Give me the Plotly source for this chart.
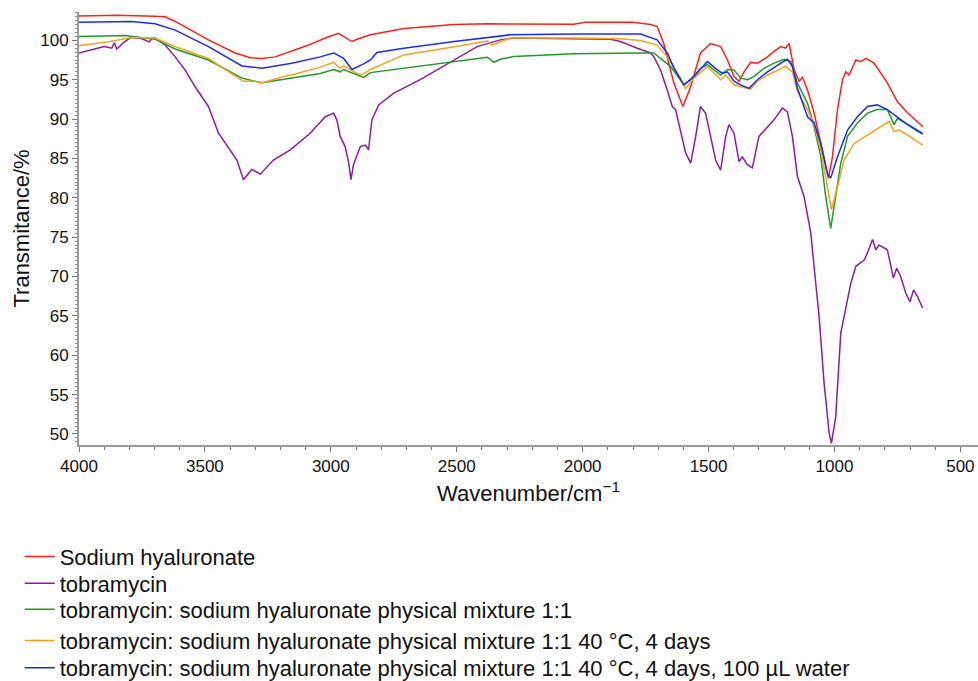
import plotly.graph_objects as go

# ---- data (wavenumber in cm^-1, transmittance in %) ----
wn_sh = [4000, 3850, 3700, 3658, 3618, 3486, 3380, 3320, 3274, 3221, 3088, 3022, 2970, 2945, 2916, 2890, 2843,
         2710, 2510, 2378, 2035, 1990, 1800, 1730, 1704, 1678, 1638, 1602, 1571, 1532, 1492, 1452, 1425, 1399,
         1379, 1359, 1333, 1306, 1266, 1240, 1213, 1194, 1180, 1160, 1140, 1127, 1107, 1081, 1054, 1035, 1024,
         1008, 988, 968, 955, 942, 915, 895, 876, 843, 790, 750, 710, 650]
t_sh = [103.1, 103.2, 103.05, 103.0, 102.4, 100.06, 98.4, 97.8, 97.7, 97.9, 99.4, 100.3, 100.9, 100.4, 99.85,
        100.2, 100.7, 101.5, 102.0, 102.1, 102.05, 102.3, 102.3, 102.0, 101.75, 99.6, 94.6, 91.6, 94.1, 98.4,
        99.6, 99.2, 97.5, 95.4, 94.8, 96.0, 97.2, 97.1, 97.9, 98.6, 99.2, 99.0, 99.6, 96.25, 94.8, 95.3, 93.7,
        90.8, 87.0, 84.4, 82.5, 85.2, 91.2, 95.0, 96.0, 95.6, 97.5, 97.3, 97.7, 97.1, 94.6, 92.2, 90.8, 89.05]

wn_tob = [4000, 3950, 3900, 3870, 3860, 3850, 3820, 3791, 3750, 3720, 3710, 3698, 3680, 3658, 3618, 3579, 3539,
          3486, 3446, 3400, 3373, 3347, 3314, 3280, 3228, 3161, 3082, 3022, 2989, 2976, 2963, 2943, 2929, 2920,
          2910, 2883, 2863, 2850, 2837, 2810, 2750, 2645, 2510, 2419, 2327, 2274, 1889, 1850, 1783, 1730, 1717,
          1691, 1664, 1644, 1631, 1611, 1591, 1571, 1551, 1532, 1512, 1492, 1472, 1452, 1432, 1419, 1399, 1379,
          1366, 1346, 1326, 1300, 1266, 1240, 1207, 1187, 1167, 1147, 1121, 1094, 1081, 1061, 1041, 1021, 1012,
          995, 975, 955, 935, 915, 882, 869, 849, 836, 823, 790, 777, 766, 753, 737, 717, 700, 686, 670, 650]
t_tob = [98.4, 98.8, 99.2, 99.0, 99.7, 98.9, 99.8, 100.4, 100.2, 99.8, 100.3, 100.3, 99.9, 99.4, 97.9, 96.25,
         94.1, 91.6, 88.2, 86.1, 84.8, 82.3, 83.6, 83.0, 84.8, 86.1, 88.2, 90.3, 90.75, 89.9, 87.8, 86.5, 84.4,
         82.3, 84.2, 86.5, 86.7, 86.1, 89.9, 91.8, 93.3, 95.0, 97.5, 99.2, 100.06, 100.3, 100.15, 99.85, 99.0,
         98.4, 97.9, 96.25, 93.7, 91.6, 91.2, 88.6, 85.7, 84.4, 87.8, 91.6, 90.75, 87.8, 84.8, 83.5, 87.8, 89.3,
         88.2, 84.6, 85.2, 84.2, 83.8, 87.8, 89.05, 89.9, 91.4, 90.95, 87.8, 82.7, 80.2, 75.5, 71.3, 64.9, 56.4,
         50.1, 48.8, 52.2, 62.8, 66.2, 69.15, 71.3, 72.1, 73.0, 74.7, 73.4, 74.0, 73.4, 71.3, 69.8, 71.05, 70.0,
         67.9, 66.8, 68.3, 67.45, 66.0]

wn_mix = [4000, 3817, 3698, 3618, 3486, 3353, 3274, 3155, 3042, 2989, 2963, 2949, 2903, 2870, 2843, 2710, 2510,
          2378, 2353, 2327, 2274, 2035, 1770, 1717, 1691, 1651, 1598, 1571, 1532, 1505, 1452, 1425, 1399, 1372,
          1346, 1320, 1280, 1240, 1200, 1173, 1147, 1107, 1081, 1054, 1035, 1015, 995, 975, 948, 909, 869, 830,
          790, 777, 763, 750, 710, 650]
t_mix = [100.5, 100.6, 100.15, 98.9, 97.5, 95.2, 94.6, 95.2, 95.8, 96.3, 96.0, 96.3, 95.75, 95.3, 95.9, 96.45,
         97.3, 97.85, 97.2, 97.6, 97.95, 98.3, 98.4, 98.4, 97.7, 96.7, 94.35, 95.0, 96.45, 96.9, 95.6, 96.3,
         96.25, 95.2, 95.0, 95.4, 96.45, 97.1, 97.6, 97.3, 94.55, 92.0, 89.05, 85.2, 80.2, 76.1, 80.2, 84.4,
         87.8, 89.5, 90.75, 91.2, 91.2, 90.3, 89.3, 90.1, 89.3, 88.2]

wn_mix40 = [4000, 3877, 3790, 3698, 3618, 3486, 3387, 3347, 3300, 3274, 3188, 3155, 3042, 2989, 2963, 2949, 2896,
            2876, 2843, 2710, 2510, 2378, 2360, 2327, 2287, 2035, 1850, 1770, 1704, 1664, 1638, 1591, 1558, 1505,
            1452, 1432, 1399, 1333, 1306, 1266, 1194, 1167, 1147, 1107, 1081, 1054, 1035, 1012, 988, 962, 922,
            869, 816, 783, 763, 743, 710, 650]
t_mix40 = [99.3, 99.85, 100.35, 100.3, 99.2, 97.7, 95.6, 94.8, 94.8, 94.6, 95.4, 95.6, 96.6, 97.2, 96.45, 96.75,
           95.8, 95.6, 96.3, 98.15, 99.2, 99.9, 99.4, 99.85, 100.3, 100.3, 100.2, 99.97, 99.4, 97.9, 96.7, 93.9,
           95.2, 96.7, 95.0, 95.6, 94.35, 93.8, 94.8, 95.6, 96.7, 96.0, 93.5, 91.2, 89.3, 86.1, 82.7, 78.5, 81.4,
           84.8, 86.9, 88.0, 89.05, 89.7, 88.4, 88.6, 88.0, 86.7]

wn_mixw = [4000, 3791, 3698, 3618, 3486, 3353, 3274, 3155, 3042, 3000, 2989, 2949, 2916, 2870, 2843, 2817, 2710,
           2510, 2378, 2287, 2035, 1770, 1704, 1664, 1638, 1598, 1558, 1505, 1465, 1445, 1425, 1399, 1372, 1339,
           1306, 1266, 1213, 1187, 1167, 1147, 1107, 1081, 1054, 1028, 1015, 988, 948, 909, 869, 830, 790, 750,
           710, 650]
t_mixw = [102.3, 102.4, 102.1, 101.3, 99.2, 96.75, 96.45, 97.1, 97.9, 98.3, 98.4, 97.7, 96.3, 97.0, 97.5, 98.45,
          99.0, 99.85, 100.4, 100.7, 100.8, 100.8, 100.06, 98.4, 96.5, 94.35, 95.4, 97.3, 96.25, 95.8, 96.0, 94.8,
          94.35, 93.9, 95.0, 96.0, 97.1, 97.6, 96.7, 93.9, 90.3, 89.5, 86.9, 83.1, 82.5, 85.2, 88.6, 90.3, 91.6,
          91.8, 91.2, 90.3, 89.3, 88.1]

names = ["Sodium hyaluronate",
         "tobramycin",
         "tobramycin: sodium hyaluronate physical mixture 1:1",
         "tobramycin: sodium hyaluronate physical mixture 1:1 40 °C, 4 days",
         "tobramycin: sodium hyaluronate physical mixture 1:1 40 °C, 4 days, 100 µL water"]
colors = ["#FF1F1F", "#8A1F9A", "#1F9A2A", "#F5A21E", "#1F2AF0"]

x_ticks = [4000, 3500, 3000, 2500, 2000, 1500, 1000, 500]
y_ticks = [50, 55, 60, 65, 70, 75, 80, 85, 90, 95, 100]

series = [(wn_sh, t_sh), (wn_tob, t_tob), (wn_mix, t_mix), (wn_mix40, t_mix40), (wn_mixw, t_mixw)]

FONT = "Liberation Sans, Arial, Helvetica, sans-serif"

# legend row positions (paper coords, below the plot area)
legend_rows_y = [-0.258, -0.32, -0.38, -0.452, -0.515]
legend_x = -0.066

fig = go.Figure()
legend_layout = {}
for i, ((xs, ys), nm, col) in enumerate(zip(series, names, colors)):
    lg = "legend" if i == 0 else f"legend{i + 1}"
    fig.add_trace(go.Scatter(x=xs, y=ys, mode="lines", name=nm, legend=lg,
                             line=dict(color=col, width=1.5)))
    legend_layout[lg] = dict(x=legend_x, y=legend_rows_y[i], xanchor="left", yanchor="middle",
                             orientation="v", font=dict(family=FONT, size=22, color="#111"),
                             bgcolor="rgba(0,0,0,0)", itemwidth=30, borderwidth=0)

fig.update_layout(
    width=978, height=681,
    margin=dict(l=79, r=0, t=12, b=236, autoexpand=False),
    paper_bgcolor="white", plot_bgcolor="white",
    font=dict(family=FONT, size=17, color="#111"),
    showlegend=True,
    **legend_layout,
)
fig.update_xaxes(
    range=[4000, 430], tickvals=x_ticks, ticktext=[str(v) for v in x_ticks],
    showgrid=False, zeroline=False, showline=True, linecolor="#9a9a9a", linewidth=2,
    ticks="outside", ticklen=5, tickcolor="#777", tickwidth=1,
    minor=dict(dtick=100, ticks="outside", ticklen=3, tickcolor="#777", showgrid=False),
    tickfont=dict(size=17), automargin=False,
    title=dict(text="Wavenumber/cm<sup>−1</sup>", font=dict(size=22), standoff=10),
)
fig.update_yaxes(
    range=[48.6, 103.6], tickvals=y_ticks, ticktext=[str(v) for v in y_ticks],
    showgrid=False, zeroline=False, showline=True, linecolor="#9a9a9a", linewidth=2,
    ticks="outside", ticklen=5, tickcolor="#777", tickwidth=1,
    minor=dict(dtick=0.5, ticks="outside", ticklen=2, tickcolor="#888", showgrid=False),
    tickfont=dict(size=17), automargin=False,
    title=dict(text="Transmitance/%", font=dict(size=22), standoff=5),
)

fig.write_html("out.html")
